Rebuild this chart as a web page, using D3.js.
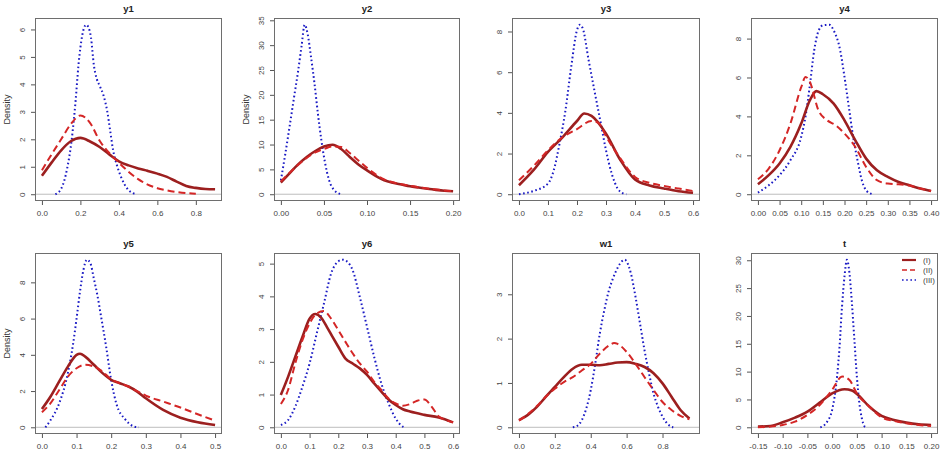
<!DOCTYPE html>
<html><head><meta charset="utf-8">
<script src="https://cdn.jsdelivr.net/npm/d3@7"></script>
<style>body{margin:0;background:#fff}svg{display:block}text{font-family:"Liberation Sans",Arial,sans-serif}</style>
</head><body>
<script>
// ---------- data ----------
const panelNames = ["y1","y2","y3","y4","y5","y6","w1","t"];
const legendLabels = ["(I)","(II)","(III)"];
const densityLabelPanels = ["y1","y2","y5"];

// data ranges (x) per panel
const xRanges = [[0,0.9],[0,0.2],[0,0.6],[0,0.4],[0,0.5],[0,0.6],[0,0.97],[-0.15,0.2]];
// tick values
const xTicks = [
  [0,0.2,0.4,0.6,0.8],
  [0,0.05,0.10,0.15,0.20],
  [0,0.1,0.2,0.3,0.4,0.5,0.6],
  [0,0.05,0.10,0.15,0.20,0.25,0.30,0.35,0.40],
  [0,0.1,0.2,0.3,0.4,0.5],
  [0,0.1,0.2,0.3,0.4,0.5,0.6],
  [0,0.2,0.4,0.6,0.8],
  [-0.15,-0.10,-0.05,0,0.05,0.10,0.15,0.20]
];
const xTickDecimals = [1,2,1,2,1,1,1,2];
const yTicks = [
  [0,1,2,3,4,5,6],
  [0,5,10,15,20,25,30,35],
  [0,2,4,6,8],
  [0,2,4,6,8],
  [0,2,4,6,8],
  [0,1,2,3,4,5],
  [0,1,2,3],
  [0,5,10,15,20,25,30]
];

// y1
const y1_I_x = [0,0.05,0.1,0.15,0.2,0.25,0.3,0.35,0.4,0.45,0.5,0.55,0.6,0.65,0.7,0.75,0.8,0.85,0.9];
const y1_I_y = [0.67,1.15,1.6,1.93,2.05,1.92,1.72,1.45,1.2,1.05,0.94,0.85,0.75,0.63,0.46,0.3,0.23,0.19,0.18];
const y1_II_x = [0,0.05,0.1,0.15,0.2,0.25,0.3,0.35,0.4,0.45,0.5,0.55,0.6,0.65,0.7,0.75,0.8];
const y1_II_y = [0.87,1.45,2.0,2.55,2.87,2.6,1.95,1.5,1.15,0.82,0.55,0.35,0.22,0.14,0.08,0.04,0.02];
const y1_III_x = [0.07,0.1,0.13,0.155,0.175,0.19,0.21,0.23,0.24,0.255,0.27,0.285,0.3,0.32,0.34,0.355,0.37,0.39,0.41,0.43,0.45,0.47,0.49];
const y1_III_y = [0,0.2,0.9,2.0,3.4,4.7,5.8,6.17,6.1,5.7,4.7,4.2,3.95,3.6,3.0,2.3,1.6,1.05,0.65,0.35,0.15,0.05,0];
// y2
const y2_I_x = [0,0.01,0.02,0.03,0.04,0.05,0.06,0.07,0.08,0.09,0.10,0.11,0.12,0.13,0.14,0.15,0.16,0.17,0.18,0.19,0.20];
const y2_I_y = [2.35,4.2,6.0,7.5,8.7,9.6,9.95,9.1,7.5,6.0,4.8,3.7,2.8,2.3,1.95,1.6,1.35,1.1,0.88,0.7,0.6];
const y2_II_x = [0,0.01,0.02,0.03,0.04,0.05,0.06,0.07,0.08,0.09,0.10,0.11,0.12,0.13,0.14,0.15,0.16,0.17,0.18,0.19,0.20];
const y2_II_y = [2.6,4.3,5.9,7.3,8.4,9.1,9.6,9.5,8.3,6.8,5.3,4.0,3.0,2.4,2.0,1.7,1.4,1.15,0.95,0.75,0.6];
const y2_III_x = [0,0.005,0.01,0.015,0.02,0.024,0.0276,0.031,0.035,0.039,0.043,0.047,0.051,0.056,0.062,0.07];
const y2_III_y = [2.8,8.0,13.5,19.2,24.8,29.8,34.1,32.3,27.6,22.3,16.2,10.9,6.6,2.8,0.8,0];
// y3
const y3_I_x = [0,0.05,0.1,0.15,0.2,0.225,0.25,0.3,0.35,0.4,0.45,0.5,0.55,0.6];
const y3_I_y = [0.44,1.18,2.08,2.8,3.6,3.97,3.85,2.98,1.67,0.72,0.43,0.28,0.15,0.07];
const y3_II_x = [0,0.05,0.1,0.15,0.2,0.25,0.275,0.3,0.35,0.4,0.45,0.5,0.55,0.6];
const y3_II_y = [0.69,1.38,2.16,2.8,3.2,3.6,3.5,2.85,1.75,0.85,0.56,0.41,0.28,0.16];
const y3_III_x = [0,0.05,0.1,0.12,0.14,0.16,0.18,0.2,0.21,0.22,0.24,0.26,0.28,0.3,0.32,0.34,0.36,0.37];
const y3_III_y = [0,0.16,0.52,1.18,2.5,4.1,6.26,8.07,8.33,8.15,6.6,5.1,3.64,2.16,1.0,0.28,0.03,0];
// y4
const y4_I_x = [0,0.025,0.05,0.075,0.1,0.12,0.135,0.15,0.175,0.2,0.225,0.25,0.275,0.3,0.325,0.35,0.375,0.4];
const y4_I_y = [0.51,0.98,1.58,2.43,3.63,4.83,5.3,5.14,4.66,3.8,2.77,1.83,1.23,0.89,0.63,0.46,0.29,0.17];
const y4_II_x = [0,0.025,0.05,0.075,0.1,0.11,0.12,0.14,0.16,0.18,0.2,0.225,0.25,0.275,0.3,0.325,0.35,0.375,0.4];
const y4_II_y = [0.77,1.32,2.26,3.63,5.5,6.03,5.77,4.3,3.8,3.54,3.12,2.43,1.4,0.72,0.55,0.51,0.45,0.29,0.17];
const y4_III_x = [0,0.025,0.05,0.075,0.1,0.11,0.12,0.13,0.14,0.15,0.165,0.175,0.19,0.2,0.21,0.22,0.23,0.24,0.25,0.265];
const y4_III_y = [0.08,0.46,0.98,1.75,2.95,4.0,5.6,7.4,8.4,8.68,8.71,8.42,7.4,6.03,4.49,2.95,1.75,0.72,0.2,0];
// y5
const y5_I_x = [0,0.025,0.05,0.075,0.1,0.11,0.125,0.15,0.175,0.2,0.225,0.25,0.275,0.3,0.35,0.4,0.45,0.5];
const y5_I_y = [1.01,1.7,2.53,3.35,4.0,4.06,3.9,3.45,2.99,2.62,2.43,2.25,1.97,1.6,0.96,0.53,0.28,0.13];
const y5_II_x = [0,0.025,0.05,0.075,0.1,0.125,0.15,0.175,0.2,0.225,0.25,0.275,0.3,0.35,0.4,0.45,0.5];
const y5_II_y = [0.83,1.33,2.06,2.8,3.26,3.45,3.35,3.08,2.65,2.43,2.25,2.0,1.75,1.42,1.09,0.72,0.37];
const y5_III_x = [0.01,0.025,0.05,0.075,0.09,0.1,0.11,0.12,0.13,0.14,0.15,0.16,0.17,0.185,0.2,0.215,0.24,0.265,0.28];
const y5_III_y = [0,0.4,1.33,3.0,4.6,6.0,7.5,8.7,9.25,9.05,8.2,7.3,6.2,4.5,2.6,1.3,0.45,0.05,0];
// y6
const y6_I_x = [0,0.025,0.05,0.075,0.1,0.12,0.14,0.16,0.18,0.2,0.225,0.25,0.275,0.3,0.325,0.35,0.375,0.4,0.425,0.45,0.5,0.55,0.6];
const y6_I_y = [0.99,1.54,2.15,2.76,3.32,3.46,3.35,3.07,2.76,2.46,2.1,1.95,1.8,1.6,1.34,1.09,0.85,0.68,0.55,0.48,0.38,0.3,0.15];
const y6_II_x = [0,0.025,0.05,0.075,0.1,0.125,0.15,0.175,0.2,0.225,0.25,0.275,0.3,0.325,0.35,0.375,0.4,0.425,0.45,0.475,0.5,0.525,0.55,0.575,0.6];
const y6_II_y = [0.71,1.14,1.95,2.66,3.17,3.48,3.55,3.32,2.97,2.61,2.26,1.95,1.7,1.39,1.14,0.88,0.73,0.66,0.71,0.81,0.85,0.63,0.33,0.22,0.15];
const y6_III_x = [0,0.025,0.05,0.075,0.1,0.125,0.15,0.175,0.2,0.215,0.23,0.25,0.275,0.3,0.325,0.35,0.375,0.4,0.425,0.43];
const y6_III_y = [0.07,0.22,0.63,1.24,1.95,2.87,3.78,4.7,5.07,5.12,5.07,4.8,3.98,3.07,2.15,1.34,0.73,0.27,0.02,0];
// w1
const w1_I_x = [0,0.05,0.1,0.15,0.2,0.25,0.3,0.35,0.4,0.45,0.5,0.55,0.6,0.65,0.7,0.75,0.8,0.85,0.9,0.95];
const w1_I_y = [0.16,0.28,0.46,0.69,0.91,1.13,1.32,1.41,1.41,1.40,1.43,1.46,1.47,1.43,1.36,1.22,0.99,0.69,0.39,0.2];
const w1_II_x = [0,0.05,0.1,0.15,0.2,0.25,0.3,0.35,0.4,0.45,0.5,0.53,0.55,0.6,0.65,0.7,0.75,0.8,0.85,0.9,0.95];
const w1_II_y = [0.15,0.3,0.48,0.69,0.87,1.02,1.13,1.28,1.43,1.66,1.84,1.9,1.88,1.7,1.43,1.13,0.84,0.57,0.39,0.26,0.18];
const w1_III_x = [0.3,0.32,0.35,0.4,0.425,0.45,0.475,0.5,0.525,0.55,0.575,0.59,0.6,0.625,0.65,0.675,0.7,0.725,0.75,0.775,0.8,0.825,0.85,0.86];
const w1_III_y = [0,0.02,0.16,0.84,1.43,2.1,2.63,3.07,3.37,3.6,3.75,3.78,3.74,3.45,2.93,2.33,1.73,1.21,0.76,0.46,0.24,0.09,0.01,0];
// t
const t_I_x = [-0.15,-0.125,-0.1,-0.075,-0.05,-0.025,0,0.025,0.04,0.05,0.075,0.1,0.125,0.15,0.175,0.2];
const t_I_y = [0.12,0.24,0.9,1.74,2.82,4.44,6.1,6.84,6.6,6.0,3.72,2.04,1.32,0.84,0.54,0.42];
const t_II_x = [-0.15,-0.125,-0.1,-0.075,-0.05,-0.025,0,0.02,0.035,0.05,0.075,0.1,0.125,0.15,0.175,0.2];
const t_II_y = [0,0.12,0.42,1.02,2.22,4.0,6.72,9.12,8.5,6.1,3.72,1.8,1.14,0.72,0.42,0.24];
const t_III_x = [-0.024,-0.02,-0.01,0,0.01,0.015,0.02,0.025,0.03,0.035,0.04,0.045,0.05,0.055,0.06,0.065,0.068];
const t_III_y = [0,0.12,1.02,3.12,9.12,14.5,21.7,27.1,30.1,27.7,22.3,15.7,9.12,4.32,1.62,0.24,0];

const seriesX = [
  [y1_I_x,y1_II_x,y1_III_x],[y2_I_x,y2_II_x,y2_III_x],[y3_I_x,y3_II_x,y3_III_x],[y4_I_x,y4_II_x,y4_III_x],
  [y5_I_x,y5_II_x,y5_III_x],[y6_I_x,y6_II_x,y6_III_x],[w1_I_x,w1_II_x,w1_III_x],[t_I_x,t_II_x,t_III_x]
];
const seriesY = [
  [y1_I_y,y1_II_y,y1_III_y],[y2_I_y,y2_II_y,y2_III_y],[y3_I_y,y3_II_y,y3_III_y],[y4_I_y,y4_II_y,y4_III_y],
  [y5_I_y,y5_II_y,y5_III_y],[y6_I_y,y6_II_y,y6_III_y],[w1_I_y,w1_II_y,w1_III_y],[t_I_y,t_II_y,t_III_y]
];

// ---------- layout / style ----------
const W = 944, H = 462;
const colLeft = [35, 274, 512, 751], colRight = [222, 460, 700, 938];
const rowTop = [18, 253], rowBottom = [201, 434];
const styles = [
  {color:"#9c1f1f", width:2.6, dash:null},
  {color:"#d42626", width:2.0, dash:"7,4"},
  {color:"#1a1ac4", width:2.0, dash:"1.6,2.6"}
];
const drawOrder = [2,0,1];

const svg = d3.select("body").append("svg").attr("width", W).attr("height", H);
svg.append("rect").attr("width",W).attr("height",H).attr("fill","#fff");

panelNames.forEach((name, i) => {
  const col = i % 4, row = Math.floor(i / 4);
  const L = colLeft[col], R = colRight[col], T = rowTop[row], B = rowBottom[row];
  const xr = xRanges[i], pad = (xr[1] - xr[0]) * 0.04;
  const x = d3.scaleLinear().domain([xr[0] - pad, xr[1] + pad]).range([L, R]);
  const ymax = d3.max(seriesY[i].flat());
  const y = d3.scaleLinear().domain([-0.04 * ymax, 1.04 * ymax]).range([B, T]);
  const g = svg.append("g");

  // zero line
  g.append("line").attr("x1", L).attr("x2", R).attr("y1", y(0)).attr("y2", y(0))
    .attr("stroke", "#bdbdbd").attr("stroke-width", 1);

  // curves
  const clipId = "clip" + i;
  svg.append("clipPath").attr("id", clipId).append("rect")
    .attr("x", L).attr("y", T).attr("width", R - L).attr("height", B - T);
  const line = d3.line().x(d => x(d[0])).y(d => y(d[1])).curve(d3.curveMonotoneX);
  drawOrder.forEach(s => {
    const pts = seriesX[i][s].map((v, k) => [v, seriesY[i][s][k]]);
    const p = g.append("path").attr("d", line(pts)).attr("fill", "none")
      .attr("stroke", styles[s].color).attr("stroke-width", styles[s].width)
      .attr("stroke-linejoin", "round").attr("clip-path", `url(#${clipId})`);
    if (styles[s].dash) p.attr("stroke-dasharray", styles[s].dash);
  });

  // box
  g.append("rect").attr("x", L + 0.5).attr("y", T + 0.5).attr("width", R - L - 1).attr("height", B - T - 1)
    .attr("fill", "none").attr("stroke", "#6e6e6e").attr("stroke-width", 1);

  // x axis
  const fmt = d3.format("." + xTickDecimals[i] + "f");
  const xa = g.append("g").attr("transform", `translate(0,${B})`)
    .call(d3.axisBottom(x).tickValues(xTicks[i]).tickFormat(v => fmt(v).replace("\u2212","-")).tickSize(4).tickPadding(5));
  xa.select(".domain").remove();
  xa.selectAll("line").attr("stroke", "#555");
  xa.selectAll("text").attr("font-size", 8).attr("fill", "#444")
    .attr("font-family", "'Liberation Sans', Arial, sans-serif");

  // y axis
  const ya = g.append("g").attr("transform", `translate(${L},0)`)
    .call(d3.axisLeft(y).tickValues(yTicks[i]).tickFormat(d3.format("d")).tickSize(4));
  ya.select(".domain").remove();
  ya.selectAll("line").attr("stroke", "#555");
  ya.selectAll("text").attr("font-size", 8).attr("fill", "#444")
    .attr("font-family", "'Liberation Sans', Arial, sans-serif")
    .attr("x", null).attr("dy", null).attr("text-anchor", "middle")
    .attr("transform", "translate(-10,0) rotate(-90)");

  // title
  g.append("text").attr("x", (L + R) / 2).attr("y", T - 6).attr("text-anchor", "middle")
    .attr("font-size", 9.5).attr("font-weight", "bold").attr("fill", "#222").text(name);

  if (densityLabelPanels.includes(name)) {
    g.append("text").attr("transform", `translate(${L - 25},${(T + B) / 2}) rotate(-90)`)
      .attr("text-anchor", "middle").attr("font-size", 9).attr("fill", "#333").text("Density");
  }

  // legend in last panel
  if (i === panelNames.length - 1) {
    const lg = g.append("g");
    legendLabels.forEach((lab, k) => {
      const ly = T + 7 + k * 10;
      const l = lg.append("line").attr("x1", R - 36).attr("x2", R - 22).attr("y1", ly).attr("y2", ly)
        .attr("stroke", styles[k].color).attr("stroke-width", styles[k].width - 0.4);
      if (styles[k].dash) l.attr("stroke-dasharray", k === 1 ? "5,3" : "1.6,2.6");
      lg.append("text").attr("x", R - 15).attr("y", ly + 3).attr("font-size", 8)
        .attr("font-weight", "normal").attr("fill", "#444").attr("stroke", "none").text(lab);
    });
  }
});
</script>
</body></html>
